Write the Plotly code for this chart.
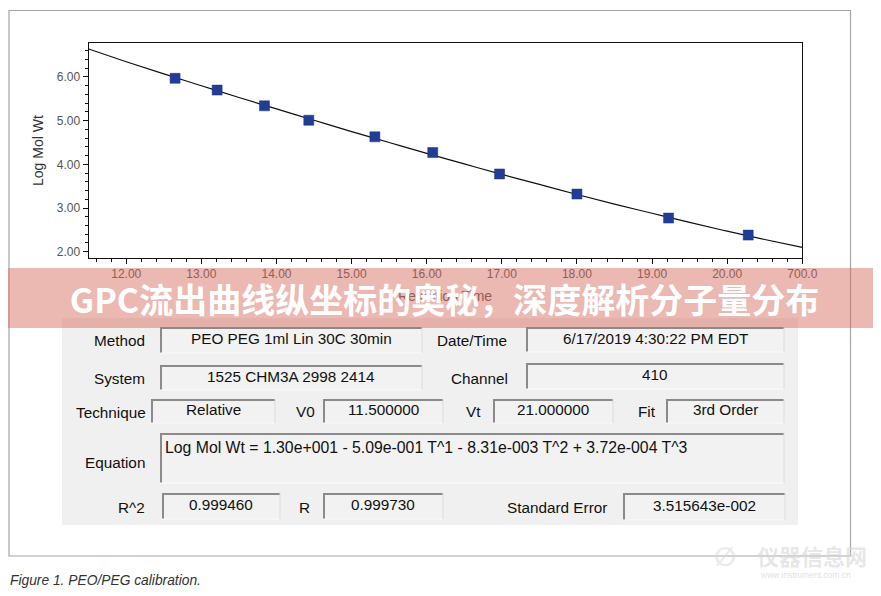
import plotly.graph_objects as go

# ---------------- data ----------------
retention_time = [12.65, 13.21, 13.84, 14.43, 15.31, 16.08, 16.97, 18.00, 19.22, 20.28]
log_mol_wt = [5.97, 5.70, 5.34, 5.01, 4.63, 4.27, 3.78, 3.32, 2.77, 2.38]

curve_t = [11.5, 12.0, 12.5, 13.0, 13.5, 14.0, 14.5, 15.0, 15.5, 16.0, 16.5,
           17.0, 17.5, 18.0, 18.5, 19.0, 19.5, 20.0, 20.5, 21.0]
curve_logm = [6.64, 6.35, 6.07, 5.80, 5.53, 5.27, 5.01, 4.75, 4.50, 4.25, 4.01,
              3.77, 3.54, 3.31, 3.09, 2.88, 2.67, 2.47, 2.28, 2.10]

x_tickvals = [12, 13, 14, 15, 16, 17, 18, 19, 20, 21]
x_ticktext = ["12.00", "13.00", "14.00", "15.00", "16.00", "17.00", "18.00", "19.00", "20.00", "700.0"]
y_tickvals = [2, 3, 4, 5, 6]
y_ticktext = ["2.00", "3.00", "4.00", "5.00", "6.00"]

# the page body has an 8px margin, so the figure is drawn 8px smaller and
# all page coordinates below are shifted by that offset
OFF = 8
W, H = 881 - OFF, 596 - OFF


def px(x):
    return (x - OFF) / W


def py(y):
    return 1 - (y - OFF) / H


fig = go.Figure()
fig.add_trace(go.Scatter(x=curve_t, y=curve_logm, mode="lines",
                         line=dict(color="#111111", width=1.2, shape="spline"),
                         showlegend=False, hoverinfo="skip"))
fig.add_trace(go.Scatter(x=retention_time, y=log_mol_wt, mode="markers",
                         marker=dict(symbol="square", size=10, color="#213e97",
                                     line=dict(color="#1a307a", width=0.5)),
                         showlegend=False))

shapes = []
annotations = []

# outer frame
shapes.append(dict(type="rect", xref="paper", yref="paper", x0=px(9), x1=px(850.5),
                   y0=py(556), y1=py(10.5), line=dict(color="#a6a6a6", width=1.2),
                   fillcolor="rgba(0,0,0,0)", layer="below"))

# info panel
shapes.append(dict(type="rect", xref="paper", yref="paper", x0=px(62), x1=px(798),
                   y0=py(525), y1=py(318), line=dict(width=0), fillcolor="#f0f0f0",
                   layer="above"))

LABEL_FONT = dict(family="Liberation Sans, Arial, sans-serif", size=15.3, color="#111111")


def sunken_box(x0, y0, x1, y1):
    shapes.append(dict(type="rect", xref="paper", yref="paper", x0=px(x0), x1=px(x1),
                       y0=py(y1), y1=py(y0), line=dict(width=0), fillcolor="#f2f2f2",
                       layer="above"))
    # dark top / left, light bottom / right
    shapes.append(dict(type="line", xref="paper", yref="paper", x0=px(x0), x1=px(x1),
                       y0=py(y0 + 1), y1=py(y0 + 1), line=dict(color="#8a8a8a", width=2), layer="above"))
    shapes.append(dict(type="line", xref="paper", yref="paper", x0=px(x0 + 1), x1=px(x0 + 1),
                       y0=py(y0), y1=py(y1), line=dict(color="#8a8a8a", width=2), layer="above"))
    shapes.append(dict(type="line", xref="paper", yref="paper", x0=px(x0), x1=px(x1),
                       y0=py(y1), y1=py(y1), line=dict(color="#fafafa", width=1), layer="above"))
    shapes.append(dict(type="line", xref="paper", yref="paper", x0=px(x1), x1=px(x1),
                       y0=py(y0), y1=py(y1), line=dict(color="#dcdcdc", width=1), layer="above"))


def text(x, y, s, xanchor="center", font=None, yanchor="middle"):
    annotations.append(dict(xref="paper", yref="paper", x=px(x), y=py(y), text=s,
                            showarrow=False, xanchor=xanchor, yanchor=yanchor,
                            font=font or LABEL_FONT))


boxes = [
    (160, 327, 422, 353, "PEO PEG 1ml Lin 30C 30min"),
    (526, 327, 784, 352, "6/17/2019 4:30:22 PM EDT"),
    (160, 365, 422, 390, "1525 CHM3A 2998 2414"),
    (526, 363, 784, 389, "410"),
    (151, 399, 275, 423, "Relative"),
    (323, 399, 443, 423, "11.500000"),
    (493, 399, 613, 423, "21.000000"),
    (666, 399, 784, 423, "3rd Order"),
    (162, 493, 280, 519, "0.999460"),
    (323, 493, 443, 519, "0.999730"),
    (623, 493, 785, 520, "3.515643e-002"),
]
for (x0, y0, x1, y1, s) in boxes:
    sunken_box(x0, y0, x1, y1)
    text((x0 + x1) / 2, (y0 + y1) / 2 - 1.5, s)

sunken_box(160, 433, 784, 483)
text(163, 447, "Log Mol Wt = 1.30e+001 - 5.09e-001 T^1 - 8.31e-003 T^2 + 3.72e-004 T^3", xanchor="left",
     font=dict(family="Liberation Sans, Arial, sans-serif", size=15.8, color="#111111"))

labels = [
    (147, 340, "Method", "right"),
    (147, 378, "System", "right"),
    (148, 412, "Technique", "right"),
    (147, 462, "Equation", "right"),
    (147, 508, "R^2", "right"),
    (305, 411, "V0", "center"),
    (304, 508, "R", "center"),
    (472, 340, "Date/Time", "center"),
    (480, 378, "Channel", "center"),
    (473, 411, "Vt", "center"),
    (647, 411, "Fit", "center"),
    (557, 508, "Standard Error", "center"),
]
for (x, y, s, a) in labels:
    text(x, y, s, xanchor=a)

# axis titles
annotations.append(dict(xref="paper", yref="paper", x=px(38), y=py(151), text="Log Mol Wt",
                        showarrow=False, textangle=-90, xanchor="center", yanchor="middle",
                        font=dict(family="Liberation Sans, Arial, sans-serif", size=14, color="#333333")))
annotations.append(dict(xref="paper", yref="paper", x=px(445), y=py(296), text="Retention Time",
                        showarrow=False, xanchor="center", yanchor="middle",
                        font=dict(family="Liberation Sans, Arial, sans-serif", size=14, color="#555555")))

# banner overlay
annotations.append(dict(xref="paper", yref="paper", x=0.5, y=py(298),
                        text="<b>GPC流出曲线纵坐标的奥秘，深度解析分子量分布</b>",
                        showarrow=False, xanchor="center", yanchor="middle",
                        width=W + 20, height=60, borderpad=0, borderwidth=0,
                        bgcolor="rgba(212,104,92,0.47)", align="center",
                        font=dict(family="Noto Sans CJK SC, sans-serif", size=34, color="#ffffff")))

# caption
annotations.append(dict(xref="paper", yref="paper", x=px(8), y=py(580), text="<i>Figure 1. PEO/PEG calibration.</i>",
                        showarrow=False, xanchor="left", yanchor="middle",
                        font=dict(family="Liberation Sans, Arial, sans-serif", size=13.8, color="#333333")))

# watermark
annotations.append(dict(xref="paper", yref="paper", x=px(812), y=py(555), text="<b>仪器信息网</b>",
                        showarrow=False, xanchor="center", yanchor="middle",
                        font=dict(family="Noto Sans CJK SC, sans-serif", size=22, color="rgba(215,215,215,0.6)")))
annotations.append(dict(xref="paper", yref="paper", x=px(725), y=py(557), text="<b>∅</b>",
                        showarrow=False, xanchor="center", yanchor="middle",
                        font=dict(family="DejaVu Sans, sans-serif", size=26, color="rgba(215,215,215,0.5)")))
annotations.append(dict(xref="paper", yref="paper", x=px(805), y=py(575), text="www.instrument.com.cn",
                        showarrow=False, xanchor="center", yanchor="middle",
                        font=dict(family="Liberation Sans, Arial, sans-serif", size=8.5, color="rgba(210,210,210,0.7)")))

TICK_FONT = dict(family="Liberation Sans, Arial, sans-serif", size=12, color="#555555")

fig.update_layout(
    width=W, height=H,
    margin=dict(l=0, r=0, t=0, b=0),
    paper_bgcolor="#ffffff", plot_bgcolor="#ffffff",
    showlegend=False,
    shapes=shapes,
    annotations=annotations,
    xaxis=dict(domain=[px(88.7), px(802.3)], range=[11.5, 21.0],
               tickmode="array", tickvals=x_tickvals, ticktext=x_ticktext,
               ticks="outside", ticklen=5, tickcolor="#111111", tickwidth=1,
               minor=dict(tickmode="linear", tick0=0, dtick=0.2, ticks="outside", ticklen=3,
                          tickcolor="#111111", tickwidth=1, showgrid=False),
               showgrid=False, zeroline=False, showline=True, linecolor="#111111", linewidth=1.3,
               mirror=True, tickfont=TICK_FONT, automargin=False, fixedrange=True),
    yaxis=dict(domain=[py(257.7), py(42.7)], range=[1.863, 6.785],
               tickmode="array", tickvals=y_tickvals, ticktext=y_ticktext,
               ticks="outside", ticklen=5, tickcolor="#111111", tickwidth=1,
               minor=dict(tickmode="linear", tick0=0, dtick=0.2, ticks="outside", ticklen=3,
                          tickcolor="#111111", tickwidth=1, showgrid=False),
               showgrid=False, zeroline=False, showline=True, linecolor="#111111", linewidth=1.3,
               mirror=True, tickfont=TICK_FONT, automargin=False, fixedrange=True),
)

fig.write_html("out.html")
